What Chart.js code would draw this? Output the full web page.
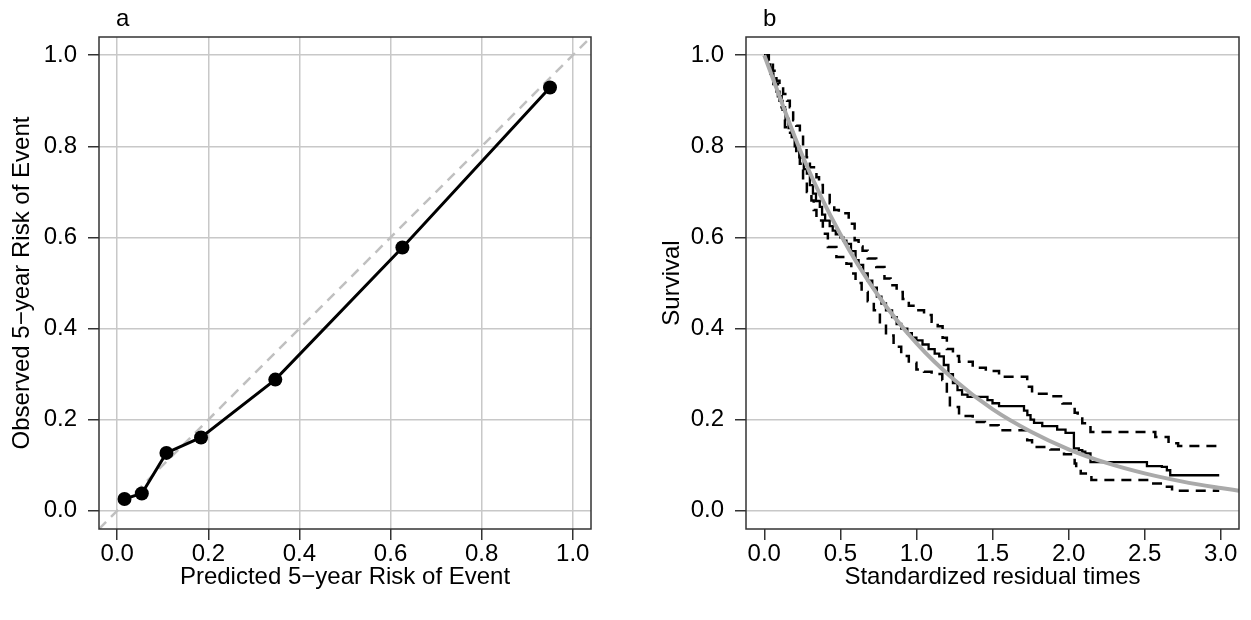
<!DOCTYPE html>
<html>
<head>
<meta charset="utf-8">
<script src="https://cdn.jsdelivr.net/npm/chart.js@4.4.0/dist/chart.umd.min.js"></script>
<style>
  body { margin: 0; background: #fff; }
  #wrapA { position: absolute; left: 0; top: 0; }
  #wrapB { position: absolute; left: 625px; top: 0; }
</style>
</head>
<body>
<div id="wrapA"><canvas id="chartA" width="625" height="620"></canvas></div>
<div id="wrapB"><canvas id="chartB" width="626" height="620"></canvas></div>
<script>
// panel a: calibration points
const predicted = [0.016, 0.054, 0.108, 0.184, 0.347, 0.626, 0.950];
const observed  = [0.026, 0.038, 0.127, 0.161, 0.288, 0.578, 0.929];
const refLine   = [-0.04, 1.04];

// panel b: Kaplan-Meier of standardized residual times (step points: time, survival after drop)
const kmTime = [0, 0.02, 0.04, 0.06, 0.08, 0.10, 0.12, 0.14, 0.16, 0.18, 0.20, 0.23, 0.26, 0.28, 0.30, 0.32, 0.34, 0.365, 0.38, 0.40,
  0.43, 0.45, 0.47, 0.50, 0.52, 0.54, 0.57, 0.60, 0.62, 0.65, 0.68, 0.71, 0.74, 0.77, 0.80, 0.84, 0.87, 0.90, 0.94, 0.97,
  1.00, 1.04, 1.08, 1.12, 1.15, 1.18, 1.21, 1.24, 1.27, 1.30, 1.336, 1.467, 1.50, 1.543, 1.707, 1.729, 1.75, 1.773, 1.827,
  1.925, 1.98, 2.035, 2.067, 2.09, 2.11, 2.144, 2.515, 2.613, 2.646, 2.668, 2.99];
const kmSurv = [1.0, 0.98, 0.96, 0.94, 0.92, 0.90, 0.88, 0.86, 0.84, 0.82, 0.80, 0.776, 0.75, 0.74, 0.715, 0.696, 0.68, 0.667, 0.65, 0.637,
  0.625, 0.615, 0.607, 0.60, 0.593, 0.586, 0.57, 0.55, 0.54, 0.521, 0.505, 0.49, 0.47, 0.455, 0.44, 0.425, 0.41, 0.40, 0.39, 0.38,
  0.374, 0.365, 0.355, 0.345, 0.339, 0.32, 0.30, 0.28, 0.265, 0.255, 0.25, 0.243, 0.236, 0.2296, 0.22, 0.21, 0.20, 0.193, 0.186,
  0.178, 0.171, 0.137, 0.133, 0.13, 0.126, 0.107, 0.098, 0.0965, 0.089, 0.078, 0.078];

const upTime = [0, 0.03, 0.057, 0.08, 0.10, 0.124, 0.15, 0.168, 0.19, 0.21, 0.234, 0.255, 0.278, 0.30, 0.343, 0.36, 0.385, 0.43, 0.46, 0.49,
  0.555, 0.594, 0.62, 0.646, 0.68, 0.736, 0.79, 0.83, 0.87, 0.91, 0.95, 1.00, 1.05, 1.10, 1.14, 1.172, 1.20, 1.24, 1.28, 1.37,
  1.456, 1.543, 1.728, 1.76, 1.88, 1.96, 2.04, 2.06, 2.09, 2.144, 2.57, 2.657, 2.72, 2.99];
const upSurv = [1.0, 0.985, 0.966, 0.944, 0.93, 0.915, 0.90, 0.886, 0.857, 0.845, 0.828, 0.798, 0.776, 0.754, 0.732, 0.715, 0.696, 0.675, 0.66, 0.653,
  0.63, 0.594, 0.58, 0.571, 0.554, 0.535, 0.51, 0.495, 0.48, 0.465, 0.45, 0.44, 0.43, 0.415, 0.405, 0.38, 0.355, 0.34, 0.327, 0.314,
  0.307, 0.294, 0.272, 0.257, 0.2515, 0.2355, 0.215, 0.206, 0.192, 0.173, 0.162, 0.148, 0.142, 0.142];

const loTime = [0, 0.016, 0.04, 0.06, 0.09, 0.114, 0.136, 0.16, 0.19, 0.21, 0.234, 0.255, 0.28, 0.31, 0.325, 0.343, 0.385, 0.418, 0.474, 0.54,
  0.572, 0.60, 0.64, 0.68, 0.72, 0.76, 0.80, 0.85, 0.90, 0.95, 1.00, 1.05, 1.10, 1.17, 1.20, 1.22, 1.28, 1.37, 1.45, 1.54,
  1.728, 1.76, 1.88, 1.97, 2.04, 2.05, 2.08, 2.15, 2.53, 2.62, 2.68, 2.99];
const loSurv = [1.0, 0.988, 0.96, 0.937, 0.91, 0.886, 0.842, 0.83, 0.813, 0.79, 0.762, 0.725, 0.70, 0.681, 0.66, 0.637, 0.608, 0.579, 0.557, 0.5425,
  0.521, 0.50, 0.48, 0.46, 0.44, 0.41, 0.385, 0.36, 0.34, 0.325, 0.31, 0.305, 0.30, 0.287, 0.257, 0.228, 0.208, 0.195, 0.188, 0.177,
  0.155, 0.14, 0.1345, 0.124, 0.104, 0.093, 0.082, 0.0673, 0.06, 0.0526, 0.044, 0.044];

// fitted reference survival curve
const fitTime = [0, 0.25, 0.5, 0.75, 1.0, 1.25, 1.5, 1.75, 2.0, 2.25, 2.5, 2.75, 3.0, 3.12];
const fitSurv = [1.0, 0.78, 0.607, 0.472, 0.368, 0.287, 0.223, 0.174, 0.135, 0.105, 0.082, 0.064, 0.05, 0.044];

const ticksA = [0, 0.2, 0.4, 0.6, 0.8, 1.0];
const ticksBx = [0, 0.5, 1.0, 1.5, 2.0, 2.5, 3.0];
const ticksBy = [0, 0.2, 0.4, 0.6, 0.8, 1.0];

const FONT = '"Liberation Sans", Arial, Helvetica, sans-serif';
Chart.defaults.font.family = FONT;
Chart.defaults.font.size = 24;
Chart.defaults.color = '#000';

function pts(xs, ys) {
  return xs.map((x, i) => ({ x: x, y: ys[i] }));
}

// draws the full box round the plot and the panel letter
const boxPlugin = {
  id: 'box',
  afterDraw(chart, args, opts) {
    const ctx = chart.ctx, a = chart.chartArea;
    ctx.save();
    ctx.strokeStyle = '#333';
    ctx.lineWidth = 1.5;
    ctx.strokeRect(a.left, a.top, a.right - a.left, a.bottom - a.top);
    ctx.fillStyle = '#000';
    ctx.font = '24px ' + FONT;
    ctx.textBaseline = 'alphabetic';
    ctx.fillText(opts.letter, a.left + 17, a.top - 11);
    ctx.restore();
  }
};

function makeAxis(min, max, ticks, size, horizontal, gridOn, title, titlePad) {
  return {
    type: 'linear',
    min: min,
    max: max,
    afterBuildTicks: s => { s.ticks = ticks.map(v => ({ value: v })); },
    afterFit: s => { if (horizontal) s.height = size; else s.width = size; },
    ticks: { callback: v => v.toFixed(1), padding: horizontal ? 0 : 11, maxRotation: 0, autoSkip: false },
    grid: {
      drawOnChartArea: gridOn,
      color: '#c8c8c8',
      lineWidth: 1.5,
      tickColor: '#333',
      tickLength: 11,
      tickWidth: 1.5
    },
    border: { display: false },
    title: { display: true, text: title, font: { size: 24 }, padding: titlePad }
  };
}

new Chart(document.getElementById('chartA'), {
  type: 'scatter',
  data: {
    datasets: [
      {
        type: 'line',
        data: pts(predicted, observed),
        borderColor: '#000',
        backgroundColor: '#000',
        borderWidth: 3,
        pointRadius: 7,
        pointBorderWidth: 0,
        showLine: true,
        order: 0
      },
      {
        type: 'line',
        data: pts(refLine, refLine),
        borderColor: '#c0c0c0',
        borderWidth: 2.5,
        borderDash: [10, 7],
        pointRadius: 0,
        order: 1
      }
    ]
  },
  options: {
    responsive: false,
    animation: false,
    layout: { padding: { left: 0, top: 37, right: 34, bottom: 0 } },
    plugins: { legend: { display: false }, tooltip: { enabled: false }, box: { letter: 'a' } },
    scales: {
      x: makeAxis(-0.04, 1.04, ticksA, 91, true, true, 'Predicted 5\u2212year Risk of Event', { top: 0, bottom: 28 }),
      y: makeAxis(-0.04, 1.04, ticksA, 99, false, true, 'Observed 5\u2212year Risk of Event', { top: 8, bottom: 0 })
    }
  },
  plugins: [boxPlugin]
});

function stepSet(xs, ys, dash, width, order) {
  return {
    type: 'line',
    data: pts(xs, ys),
    borderColor: '#000',
    borderWidth: width,
    borderDash: dash,
    stepped: 'before',
    pointRadius: 0,
    order: order
  };
}

new Chart(document.getElementById('chartB'), {
  type: 'scatter',
  data: {
    datasets: [
      {
        type: 'line',
        data: pts(fitTime, fitSurv),
        borderColor: '#aaaaaa',
        borderWidth: 4,
        cubicInterpolationMode: 'monotone',
        pointRadius: 0,
        order: 0
      },
      stepSet(kmTime, kmSurv, [], 2.3, 1),
      stepSet(upTime, upSurv, [10, 7], 2.5, 2),
      stepSet(loTime, loSurv, [10, 7], 2.5, 3)
    ]
  },
  options: {
    responsive: false,
    animation: false,
    layout: { padding: { left: 0, top: 37, right: 12, bottom: 0 } },
    plugins: { legend: { display: false }, tooltip: { enabled: false }, box: { letter: 'b' } },
    scales: {
      x: makeAxis(-0.12, 3.12, ticksBx, 91, true, false, 'Standardized residual times', { top: 0, bottom: 28 }),
      y: makeAxis(-0.04, 1.04, ticksBy, 121, false, true, 'Survival', { top: 33, bottom: 0 })
    }
  },
  plugins: [boxPlugin]
});
</script>
</body>
</html>
